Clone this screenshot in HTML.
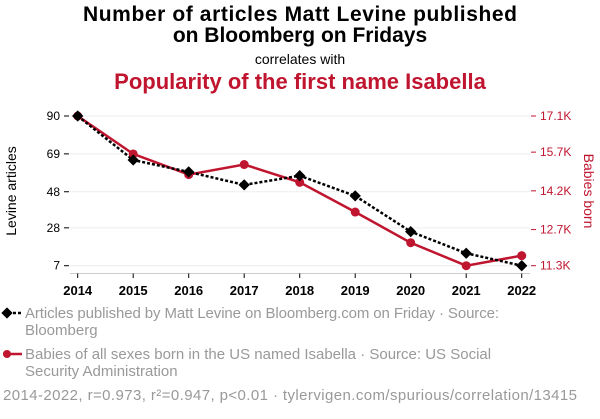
<!DOCTYPE html>
<html><head><meta charset="utf-8">
<style>
body{margin:0;background:#fff;width:600px;height:414px;overflow:hidden;font-family:"Liberation Sans",Arial,sans-serif;}
</style></head>
<body>
<svg id="chart" width="600" height="414" xmlns="http://www.w3.org/2000/svg" font-family="Liberation Sans, Arial, sans-serif">
<text x="300" y="21" text-anchor="middle" font-size="21" font-weight="bold" fill="#000" textLength="434">Number of articles Matt Levine published</text>
<text x="300" y="42" text-anchor="middle" font-size="21" font-weight="bold" fill="#000">on Bloomberg on Fridays</text>
<text x="300" y="64" text-anchor="middle" font-size="14" fill="#000">correlates with</text>
<text x="300" y="89" text-anchor="middle" font-size="22" font-weight="bold" fill="#c0152f">Popularity of the first name Isabella</text>
<text transform="translate(16,191) rotate(-90)" text-anchor="middle" font-size="14" fill="#000">Levine articles</text>
<text transform="translate(584,191) rotate(90)" text-anchor="middle" font-size="14" fill="#c0152f">Babies born</text>
<g id="grid"></g>
<g id="axes"></g>
<g id="series"></g>
<g>
<line x1="3" y1="313" x2="22" y2="313" stroke="#000" stroke-width="2.5" stroke-dasharray="3,2"/>
<rect x="3" y="309" width="8" height="8" fill="#000" transform="rotate(45 7 313)"/>
<text x="25" y="318" font-size="15" fill="#999" textLength="474">Articles published by Matt Levine on Bloomberg.com on Friday · Source:</text>
<text x="25" y="335" font-size="15" fill="#999">Bloomberg</text>
<line x1="3" y1="354" x2="22" y2="354" stroke="#c0152f" stroke-width="2.5"/>
<circle cx="7" cy="354" r="4" fill="#c0152f"/>
<text x="25" y="359" font-size="15" fill="#999">Babies of all sexes born in the US named Isabella · Source: US Social</text>
<text x="25" y="376" font-size="15" fill="#999">Security Administration</text>
<text x="3" y="400" font-size="15" fill="#999" textLength="574">2014-2022, r=0.973, r²=0.947, p&lt;0.01 · tylervigen.com/spurious/correlation/13415</text>
</g>
</svg>
<script>
const years=[2014,2015,2016,2017,2018,2019,2020,2021,2022];
const levine=[90,65.6,59,51.8,56.9,45.7,25.9,13.9,7];
const isabella=[17.1,15.63,14.83,15.22,14.53,13.38,12.19,11.3,11.69];
const leftTicks=[90,69,48,28,7];
const rightTicks=[17.1,15.7,14.2,12.7,11.3];
const rightTickLabels=["17.1K","15.7K","14.2K","12.7K","11.3K"];
const NS="http://www.w3.org/2000/svg";
const x=v=>77.7+(v-2014)*(521.7-77.7)/8;
const yL=v=>265.7-(v-7)*(265.7-116)/83;
const yR=v=>265.7-(v-11.3)*(265.7-116)/5.8;
function mk(t,a,p){const e=document.createElementNS(NS,t);for(const k in a)e.setAttribute(k,a[k]);p.appendChild(e);return e;}
const grid=document.getElementById('grid'),axes=document.getElementById('axes'),ser=document.getElementById('series');
leftTicks.forEach(v=>{
 const g=mk('line',{x1:70,x2:530,y1:yL(v),y2:yL(v),stroke:'#eee','stroke-width':1},grid);
 
 
 mk('line',{x1:64,x2:69,y1:yL(v),y2:yL(v),stroke:'#000'},axes);
 const t=mk('text',{x:60,y:yL(v)+4,'text-anchor':'end','font-size':12,fill:'#000'},axes);t.textContent=v;
 
 
});
rightTicks.forEach((v,i)=>{
 mk('line',{x1:531,x2:536,y1:yR(v),y2:yR(v),stroke:'#c0152f'},axes);
 const t=mk('text',{x:540,y:yR(v)+4,'font-size':12,fill:'#c0152f'},axes);t.textContent=rightTickLabels[i];
 
 
});
mk('line',{x1:70,x2:530,y1:273.5,y2:273.5,stroke:'#ccc'},axes);
years.forEach(v=>{
 mk('line',{x1:x(v),x2:x(v),y1:273.5,y2:278,stroke:'#000'},axes);
 const t=mk('text',{x:x(v),y:295,'text-anchor':'middle','font-size':13,'font-weight':'bold',fill:'#000'},axes);t.textContent=v;
 
 
});
const rp=isabella.map((v,i)=>x(years[i])+','+yR(v)).join(' ');
const rl=mk('polyline',{points:rp,fill:'none',stroke:'#c0152f','stroke-width':2.5},ser);


const bp=levine.map((v,i)=>x(years[i])+','+yL(v)).join(' ');
const bl=mk('polyline',{points:bp,fill:'none',stroke:'#000','stroke-width':2.5,'stroke-dasharray':'3,2'},ser);


isabella.forEach((v,i)=>{
 const c=mk('circle',{cx:x(years[i]),cy:yR(v),r:4.5,fill:'#c0152f'},ser);
 
 
});
levine.forEach((v,i)=>{
 const cx=x(years[i]),cy=yL(v);
 const d=mk('rect',{x:cx-4,y:cy-4,width:8,height:8,fill:'#000',transform:`rotate(45 ${cx} ${cy})`},ser);
 
 
});
</script>
</body></html>
